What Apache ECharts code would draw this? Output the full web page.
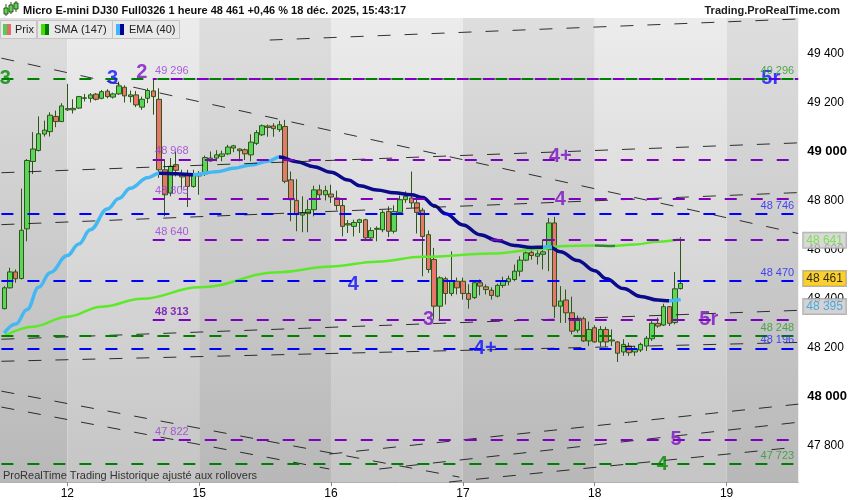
<!DOCTYPE html>
<html><head><meta charset="utf-8">
<script src="https://cdn.jsdelivr.net/npm/echarts@6/dist/echarts.min.js"></script>
<style>html,body{margin:0;padding:0;background:#fff}#c{width:850px;height:500px}</style>
</head><body><div id="c"></div>
<script>
// ---------- DATA ----------
const slotCount = 139;
const dayStartIdx = [11, 34, 57, 80, 103, 126];
const dayLabels = ['12', '15', '16', '17', '18', '19'];

const opens = [48358,48443,48508,48481,48684,48959,49004,49071,49081,49143,49122,49170,49170,49177,49217,49217,49234,49217,49246,49222,
49235,49262,49224,49231,49181,49217,49247,49213,48925,48830,48946,48908,48908,48857,48900,48908,48961,48973,48980,48990,
49014,49010,49007,48986,49033,49068,49104,49104,49089,49102,48884,48800,48740,48746,48762,48843,48823,48826,48810,48779,
48700,48694,48710,48721,48647,48682,48680,48755,48674,48751,48803,48810,48790,48760,48660,48559,48368,48480,48420,48470,
48470,48420,48403,48464,48447,48433,48409,48453,48468,48477,48511,48556,48588,48572,48580,48599,48708,48368,48393,48341,
48270,48317,48226,48280,48222,48273,48226,48222,48181,48205,48181,48189,48205,48235,48298,48291,48366,48301,48440];
const closes = [48443,48508,48480,48678,48963,49010,49072,49087,49148,49122,49186,49175,49176,49224,49219,49231,49213,49244,49224,49235,
49268,49227,49231,49190,49213,49249,49224,48925,48823,48939,48923,48896,48857,48905,48910,48975,48973,48986,48990,49018,
49023,49003,48990,49038,49077,49105,49098,49093,49109,48878,48803,48742,48748,48762,48843,48823,48840,48814,48779,48694,
48705,48710,48721,48647,48677,48686,48751,48674,48755,48803,48817,48790,48751,48653,48518,48368,48484,48420,48470,48443,
48420,48396,48464,48450,48436,48412,48453,48470,48480,48511,48556,48586,48575,48582,48590,48708,48368,48389,48341,48266,
48311,48226,48273,48222,48273,48222,48230,48176,48212,48178,48192,48212,48237,48298,48287,48366,48298,48439,48461];
const lows = [48355,48440,48464,48477,48633,48908,49000,49061,49061,49099,49120,49165,49155,49174,49204,49200,49208,49213,49217,49216,
49231,49200,49200,49181,49170,49197,49150,48892,48735,48817,48898,48844,48773,48852,48823,48900,48958,48960,48960,48985,
48997,48960,48965,48960,49026,49063,49060,49060,49080,48870,48715,48674,48670,48670,48735,48803,48800,48790,48760,48653,
48667,48653,48667,48635,48640,48633,48670,48650,48665,48745,48790,48770,48665,48490,48504,48314,48314,48375,48409,48416,
48395,48358,48398,48412,48416,48395,48404,48443,48453,48470,48490,48552,48558,48538,48518,48511,48320,48300,48300,48253,
48260,48222,48205,48219,48203,48203,48205,48140,48165,48165,48165,48181,48185,48226,48280,48287,48287,48294,48436];
const highs = [48450,48525,48518,48848,48969,49079,49143,49126,49160,49167,49197,49276,49213,49227,49235,49238,49238,49251,49254,49240,
49285,49270,49249,49247,49224,49258,49296,49258,48966,48973,49000,48925,48925,48925,48920,48983,49000,49005,49003,49027,
49027,49012,49012,49070,49087,49110,49110,49115,49125,49129,48918,48887,48817,48803,48860,48864,48860,48864,48840,48803,
48720,48721,48725,48725,48690,48694,48760,48776,48780,48820,48837,48918,48817,48770,48677,48606,48490,48488,48592,48485,
48485,48457,48470,48477,48457,48445,48460,48488,48493,48538,48572,48592,48600,48600,48640,48728,48733,48450,48436,48407,
48330,48325,48305,48290,48287,48284,48273,48226,48233,48219,48205,48219,48246,48307,48321,48378,48368,48508,48650];

// SMA(147) and EMA(40) read at selected bars
const smaBars = [0,5,11,17,24,34,48,57,65,73,85,94,97,103,106,110,114,118];
const smaVals = [48246,48284,48325,48366,48398,48445,48507,48530,48550,48570,48583,48602,48613,48616,48614,48620,48631,48641];
const emaBars = [0,2,4,6,8,11,13,15,18,20,22,25,27,30,33,37,40,43,46,48,51,54,57,60,62,65,68,71,73,75,77,80,83,86,89,92,94,95,97,100,103,105,108,111,114,116,118];
const emaVals = [48258,48295,48355,48445,48505,48575,48622,48680,48765,48808,48850,48893,48911,48909,48905,48917,48931,48945,48960,48977,48958,48938,48915,48883,48860,48843,48831,48823,48812,48778,48746,48700,48660,48636,48616,48608,48609,48612,48590,48555,48513,48480,48440,48408,48393,48390,48395];

// horizontal levels
const levelValues = [49296,49296,48968,48805,48746,48640,48470,48313,48248,48196,47822,47723];
const levelKinds  = ['g','p','p','p','b','p','b','p','g','b','p','g'];
const levelStartBar = [-0.5,25.9,25.9,25.9,-0.5,25.9,-0.5,25.9,-0.5,-0.5,25.9,-0.5];

// trend lines (bar, value) endpoints
const trendFromBar = [46.3,-0.5,-0.5,-0.5,-0.5,-0.5,-0.5,-0.5,56.7,65.4,77.6];
const trendFromVal = [49455,49381,48913,48701,48233,48143,48021,47956,47764,47703,47650];
const trendToBar   = [138.5,138.5,138.5,138.5,138.5,138.5,79.4,56.7,138.5,138.5,138.5];
const trendToVal   = [49541,48665,49035,48832,48351,48220,47670,47703,47968,47894,47793];

// wave annotations
const waveTexts = ['3','3','2','4+','4','4','3','4+','5r','5','4','5r'];
const waveKinds = ['g','b','p','p','p','b','p','b','p','p','g','b'];
const waveBars  = [0.2,18.9,24,97,97,60.9,74,83.9,122.9,117.2,114.8,133.7];
const waveVals  = [49296,49296,49321,48978,48803,48457,48314,48196,48314,47825,47723,49296];

// level value tags
const leftTagVals = [49296,48968,48805,48640,48313,47822];
const rightTagVals = [49296,48746,48470,48248,48196,47723];
const rightTagKinds = ['g','b','b','g','b','g'];

// last values tags
const lastSma = 48641, lastPrice = 48461, lastEma = 48395;

const yMin = 47650, yMax = 49545;
const yLabelVals = [47800,48000,48200,48400,48600,48800,49000,49200,49400];
const yTickVals = [47700,47800,47900,48000,48100,48200,48300,48400,48500,48600,48700,48800,48900,49000,49100,49200,49300,49400,49500];

// ---------- BUILD ----------
const fmt = v => String(v).replace(/\B(?=(\d{3})+(?!\d))/g, ' ');
const COL = { g:'#008000', p:'#8000c0', b:'#0000ff' };
const TXT = { g:'#008a00', p:'#7d10c4', b:'#1010ff' };
const FONT = 'Liberation Sans, Arial, sans-serif';

const cats = Array.from({length: slotCount}, (_, i) => {
  const k = dayStartIdx.indexOf(i); return k >= 0 ? dayLabels[k] : '';
});
const candleData = opens.map((o, i) => [o, closes[i], lows[i], highs[i]]);
const smaData = smaBars.map((b, i) => [b, smaVals[i]]);
const emaData = emaBars.map((b, i) => [b, emaVals[i]]);

// day bands
const bandEdges = [-0.5].concat(dayStartIdx, [138.5]);
const lightGrad = {type:'linear',x:0,y:0,x2:0,y2:1,colorStops:[{offset:0,color:'#ececec'},{offset:1,color:'#c5c5c5'}]};
const darkGrad  = {type:'linear',x:0,y:0,x2:0,y2:1,colorStops:[{offset:0,color:'#dedede'},{offset:1,color:'#b8b8b8'}]};
const bandData = [];
for (let i = 0; i < bandEdges.length - 1; i++) {
  bandData.push([{coord:[bandEdges[i], yMax], itemStyle:{color: i % 2 ? lightGrad : darkGrad}}, {coord:[bandEdges[i+1], yMin]}]);
}

const markLines = [];
trendFromBar.forEach((b, i) => {
  markLines.push([{coord:[b, trendFromVal[i]], lineStyle:{color:'#111', width:1, type:[13,14], opacity:0.85}},
                  {coord:[trendToBar[i], trendToVal[i]]}]);
});
levelValues.forEach((v, i) => {
  const k = levelKinds[i];
  markLines.push([{coord:[levelStartBar[i], v], lineStyle:{color:COL[k], width:2, type:[12,14], dashOffset: (k==='p' && i===1) ? 8 : 0}},
                  {coord:[138.5, v]}]);
});

const labelItems = [];
waveTexts.forEach((t, i) => {
  labelItems.push({value:[waveBars[i], waveVals[i]], label:{show:true, formatter:t, position:'inside',
    color:TXT[waveKinds[i]], fontSize:20, fontWeight:'bold', fontFamily:FONT}});
});
leftTagVals.forEach((v) => {
  labelItems.push({value:[26.3, v], label:{show:true, formatter:fmt(v), position:'right', distance:0, offset:[0,-8],
    color: v===48313 ? '#7000b0' : '#9a3ad6', fontSize:11, fontWeight: v===48313 ? 'bold':'normal', fontFamily:FONT}});
});
rightTagVals.forEach((v, i) => {
  labelItems.push({value:[137.8, v], label:{show:true, formatter:fmt(v), position:'left', distance:0, offset:[0,-8],
    color: rightTagKinds[i]==='g' ? '#2a9a2a' : '#2020ff', fontSize:11, fontFamily:FONT}});
});
const tag = (v, bg, fg, dy) => ({value:[138.5, v], label:{show:true, formatter:fmt(v), position:'right', distance:5, offset:[0,dy],
  backgroundColor:bg, color:fg, borderColor:'#a0a0a0', borderWidth:1, padding:[2,3,1,3], fontSize:12, fontFamily:FONT}});
labelItems.push(tag(lastSma, '#cfcfcf', '#66e030', 1));
labelItems.push(tag(lastPrice, '#f7c300', '#000', -5));
labelItems.push(tag(lastEma, '#c8c8c8', '#2f9ee0', 7));

const option = {
  animation: false,
  backgroundColor: '#fff',
  grid: { left: 1.4, right: 51.6, top: 18, bottom: 17, containLabel: false },
  xAxis: [
    { type:'category', data:cats, boundaryGap:true,
      axisLine:{show:true, lineStyle:{color:'#b0b0b0'}},
      axisTick:{show:true, interval:(i)=>dayStartIdx.includes(i), alignWithLabel:true, length:4, lineStyle:{color:'#888'}},
      axisLabel:{interval:0, color:'#000', fontSize:12, margin:6, fontFamily:FONT},
      splitLine:{show:false} },
    { type:'value', min:-0.5, max:138.5, show:false }
  ],
  yAxis: { type:'value', position:'right', min:yMin, max:yMax, scale:true, z:0,
    axisLine:{show:true, lineStyle:{color:'#a0a0a0'}},
    axisTick:{show:true, length:5, customValues:yTickVals, lineStyle:{color:'#777'}},
    axisLabel:{customValues:yLabelVals, margin:9, color:'#000', fontSize:12, fontFamily:FONT,
      formatter:(v)=> (v % 1000 === 0) ? '{b|' + fmt(v) + '}' : fmt(v),
      rich:{b:{fontWeight:'bold', fontSize:13, color:'#000', fontFamily:FONT}}},
    splitLine:{show:false} },
  visualMap: [
    { type:'piecewise', show:false, seriesIndex:2, dimension:0,
      pieces:[{lt:103,color:'#5ee82a'},{gte:103,lt:106.5,color:'#2c8a2c'},{gte:106.5,color:'#5ee82a'}] },
    { type:'piecewise', show:false, seriesIndex:3, dimension:0,
      pieces:[{lt:27,color:'#44b8f2'},{gte:27,lt:33,color:'#0a0a8a'},{gte:33,lt:48,color:'#44b8f2'},
              {gte:48,lt:94,color:'#0a0a8a'},{gte:94,lt:95.5,color:'#44b8f2'},{gte:95.5,lt:116,color:'#0a0a8a'},{gte:116,color:'#44b8f2'}] }
  ],
  series: [
    { type:'line', xAxisIndex:1, data:[], z:0, silent:true,
      markArea:{silent:true, data:bandData} },
    { type:'candlestick', xAxisIndex:0, data:candleData, barWidth:5, z:3,
      itemStyle:{color:'#5bd65b', color0:'#e8766c', borderColor:'#2c5716', borderColor0:'#2c5716', borderWidth:1} },
    { type:'line', xAxisIndex:1, data:smaData, showSymbol:false, symbol:'none', smooth:0.4, smoothMonotone:'x', z:4,
      lineStyle:{width:2.5} },
    { type:'line', xAxisIndex:1, data:emaData, showSymbol:false, symbol:'none', smooth:0.4, smoothMonotone:'x', z:4,
      lineStyle:{width:3.5} },
    { type:'line', xAxisIndex:1, data:[], z:5, silent:true,
      markLine:{silent:true, symbol:['none','none'], label:{show:false}, data:markLines} },
    { type:'scatter', xAxisIndex:1, data:labelItems, symbolSize:0, z:7, silent:true, clip:false }
  ],
  graphic: [
    { type:'rect', shape:{x:0,y:18,width:2,height:465}, style:{fill:darkGrad}, z:-1 },
    // header icon
    { type:'rect', shape:{x:5.5,y:4,width:1,height:12}, style:{fill:'#2c5716'}, z:20 },
    { type:'rect', shape:{x:4,y:8,width:4,height:6}, style:{fill:'#5bd65b', stroke:'#2c5716', lineWidth:1}, z:21 },
    { type:'rect', shape:{x:10.5,y:2,width:1,height:12}, style:{fill:'#2c5716'}, z:20 },
    { type:'rect', shape:{x:9,y:5,width:4,height:7}, style:{fill:'#5bd65b', stroke:'#2c5716', lineWidth:1}, z:21 },
    { type:'rect', shape:{x:15.5,y:1,width:1,height:11}, style:{fill:'#2c5716'}, z:20 },
    { type:'rect', shape:{x:14,y:3,width:4,height:6}, style:{fill:'#5bd65b', stroke:'#2c5716', lineWidth:1}, z:21 },
    { type:'text', left:23, top:5, z:20, style:{text:'Micro E-mini DJ30 Full0326 1 heure 48 461 +0,46 % 18 déc. 2025, 15:43:17',
      font:'bold 11px ' + FONT, fill:'#111'} },
    { type:'text', right:10, top:5, z:20, style:{text:'Trading.ProRealTime.com', font:'bold 11px ' + FONT, fill:'#222'} },
    // legend boxes
    { type:'rect', shape:{x:0.5,y:20.5,width:36,height:18}, style:{fill:'#e9e9e9', stroke:'#c4c4c4'}, z:20 },
    { type:'rect', shape:{x:37.5,y:20.5,width:75,height:18}, style:{fill:'#e9e9e9', stroke:'#c4c4c4'}, z:20 },
    { type:'rect', shape:{x:112.5,y:20.5,width:67,height:18}, style:{fill:'#e9e9e9', stroke:'#c4c4c4'}, z:20 },
    { type:'rect', shape:{x:3,y:24,width:4,height:11}, style:{fill:'#55cc55'}, z:21 },
    { type:'rect', shape:{x:7,y:24,width:4,height:11}, style:{fill:'#e56a6a'}, z:21 },
    { type:'rect', shape:{x:41,y:24,width:4,height:11}, style:{fill:'#44dd00'}, z:21 },
    { type:'rect', shape:{x:45,y:24,width:4,height:11}, style:{fill:'#007a00'}, z:21 },
    { type:'rect', shape:{x:116,y:24,width:4,height:11}, style:{fill:'#3cb8ff'}, z:21 },
    { type:'rect', shape:{x:120,y:24,width:4,height:11}, style:{fill:'#000099'}, z:21 },
    { type:'text', left:15, top:24, z:21, style:{text:'Prix', font:'11px ' + FONT, fill:'#222'} },
    { type:'text', left:54, top:24, z:21, style:{text:'SMA (147)', font:'11px ' + FONT, fill:'#222'} },
    { type:'text', left:129, top:24, z:21, style:{text:'EMA (40)', font:'11px ' + FONT, fill:'#222'} },
    // footer
    { type:'text', left:3, top:470, z:21, style:{text:'ProRealTime Trading Historique ajusté aux rollovers', font:'11px ' + FONT, fill:'#333'} }
  ]
};
const chart = echarts.init(document.getElementById('c'));
chart.setOption(option);
</script></body></html>
